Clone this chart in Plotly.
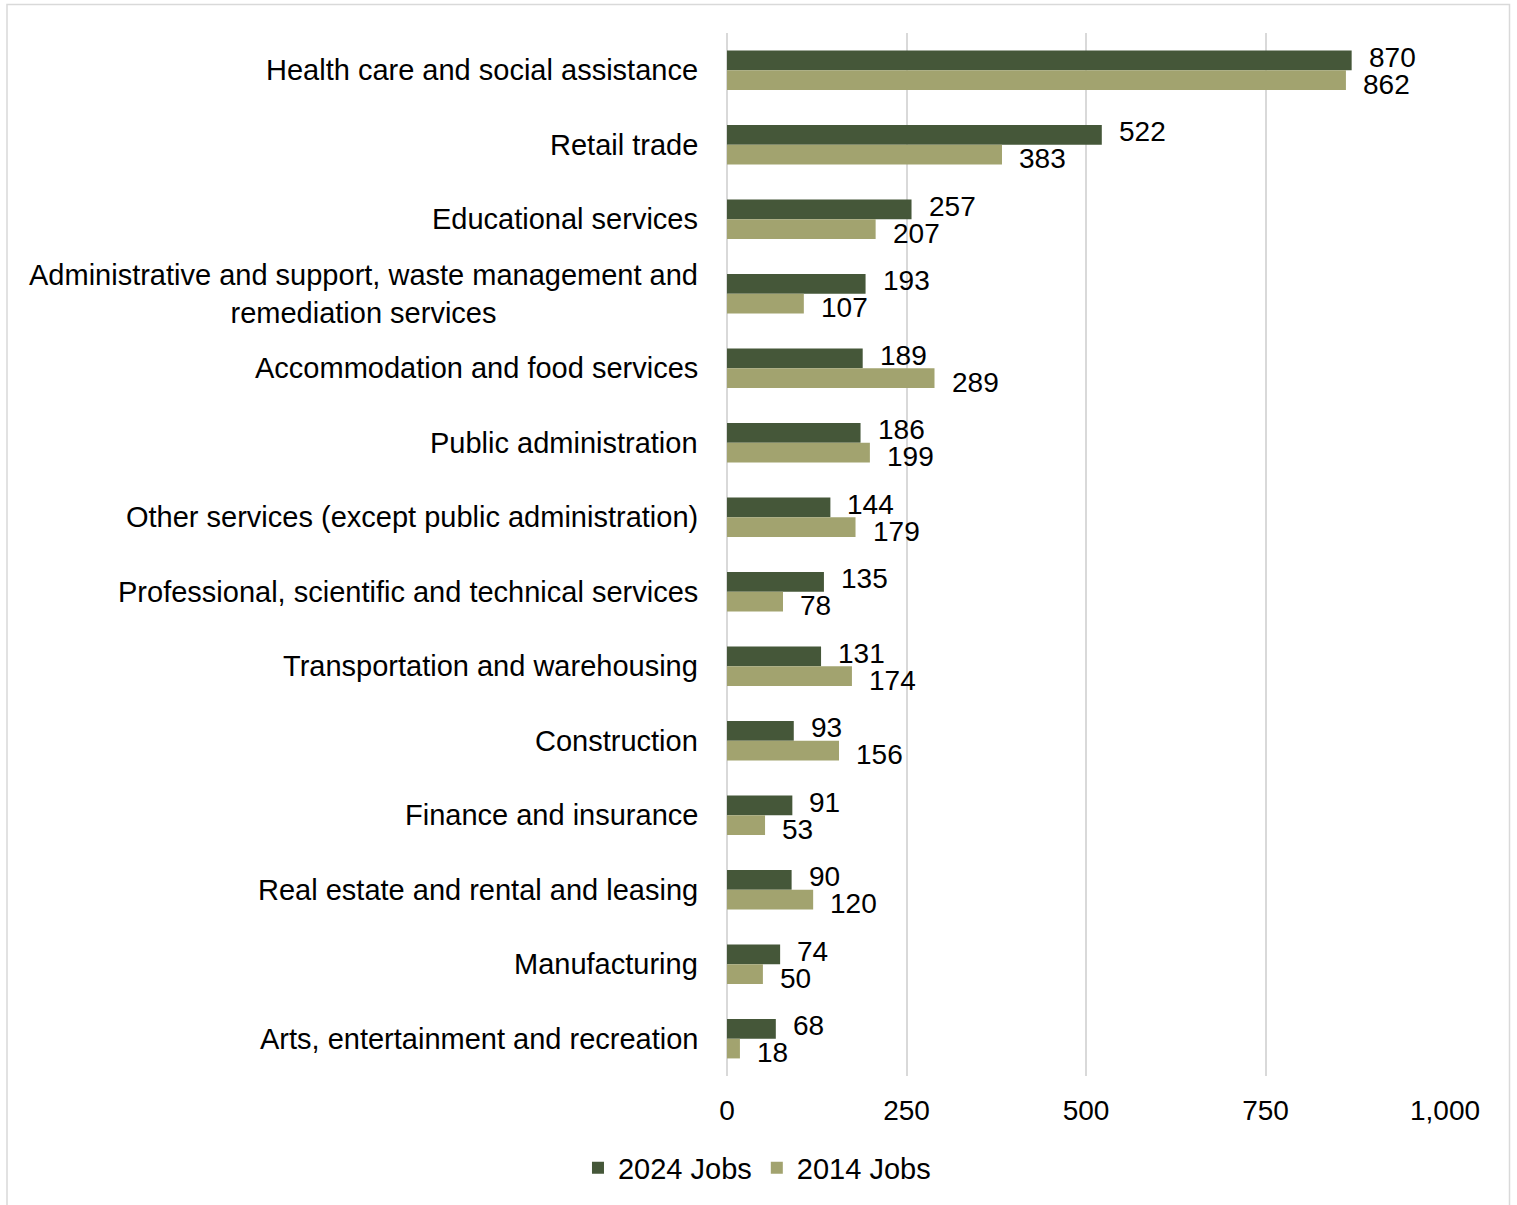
import plotly.graph_objects as go

# Jobs by industry sector, 2024 vs 2014
categories = [
    "Health care and social assistance",
    "Retail trade",
    "Educational services",
    "Administrative and support, waste management and<br>remediation services",
    "Accommodation and food services",
    "Public administration",
    "Other services (except public administration)",
    "Professional, scientific and technical services",
    "Transportation and warehousing",
    "Construction",
    "Finance and insurance",
    "Real estate and rental and leasing",
    "Manufacturing",
    "Arts, entertainment and recreation",
]
jobs_2024 = [870, 522, 257, 193, 189, 186, 144, 135, 131, 93, 91, 90, 74, 68]
jobs_2014 = [862, 383, 207, 107, 289, 199, 179, 78, 174, 156, 53, 120, 50, 18]
x_ticks = [0, 250, 500, 750, 1000]
x_tick_labels = ["0", "250", "500", "750", "1,000"]

DARK = "#455739"
LIGHT = "#A2A36F"
GRID = "#D9D9D9"
FONT = "Liberation Sans, Arial, sans-serif"

W, H = 1517, 1205
M_L, M_R, M_T, M_B = 727, 72, 33, 129
BARGAP = 0.472

plot_h = H - M_T - M_B
plot_w = W - M_L - M_R
band_px = plot_h / len(categories)
bar_px = band_px * (1 - BARGAP) / 2

fig = go.Figure()
fig.add_trace(go.Bar(
    name="2024 Jobs", y=categories, x=jobs_2024, orientation="h",
    marker=dict(color=DARK, line=dict(width=0)),
))
fig.add_trace(go.Bar(
    name="2014 Jobs", y=categories, x=jobs_2014, orientation="h",
    marker=dict(color=LIGHT, line=dict(width=0)),
))

annotations = []
# category labels, centred lines, right-aligned block
for c in categories:
    annotations.append(dict(
        x=0, xref="paper", y=c, yref="y", text=c, showarrow=False,
        xanchor="right", yanchor="middle", align="center", xshift=-27,
        font=dict(family=FONT, size=29, color="#000000"),
    ))
# value labels at the end of each bar
for series, shift in ((jobs_2024, bar_px / 2 + 3), (jobs_2014, -(bar_px / 2 + 4))):
    for c, v in zip(categories, series):
        annotations.append(dict(
            x=v, xref="x", y=c, yref="y", text=f"{v:,}", showarrow=False,
            xanchor="left", yanchor="middle", xshift=15, yshift=shift,
            font=dict(family=FONT, size=28, color="#000000"),
        ))

# chart-area border
px2x = lambda px: (px - M_L) / plot_w
py2y = lambda py: (H - M_B - py) / plot_h
shapes = [dict(
    type="rect", xref="paper", yref="paper",
    x0=px2x(7), x1=px2x(1509.5), y0=py2y(1215), y1=py2y(4.5),
    line=dict(color=GRID, width=1.5), fillcolor="rgba(0,0,0,0)", layer="below",
)]

fig.update_layout(
    width=W, height=H,
    margin=dict(l=M_L, r=M_R, t=M_T, b=M_B),
    paper_bgcolor="white", plot_bgcolor="white",
    barmode="group", bargap=BARGAP, bargroupgap=0,
    font=dict(family=FONT, size=28, color="#000000"),
    xaxis=dict(
        range=[0, 1000], tickvals=x_ticks, ticktext=x_tick_labels,
        showgrid=True, gridcolor=GRID, gridwidth=1.5,
        zeroline=True, zerolinecolor=GRID, zerolinewidth=1.5,
        showline=False, ticks="", ticklabelstandoff=15,
        tickfont=dict(family=FONT, size=28, color="#000000"),
    ),
    yaxis=dict(
        categoryorder="array", categoryarray=categories,
        autorange="reversed", showticklabels=False, showgrid=False,
        zeroline=False, showline=False, ticks="",
    ),
    legend=dict(
        orientation="h", xref="container", yref="container",
        x=0.499, xanchor="center", y=1 - 1168 / H, yanchor="middle",
        font=dict(family=FONT, size=29, color="#000000"),
        itemwidth=30, traceorder="normal",
    ),
    annotations=annotations,
    shapes=shapes,
)

fig.write_html("out.html")
